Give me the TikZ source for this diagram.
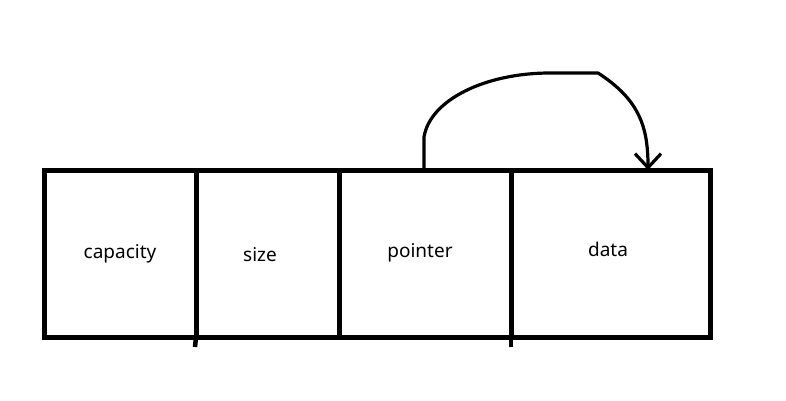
\documentclass[tikz,border=0pt]{standalone}
\usepackage{fontspec}
\setmainfont{Noto Sans}
\usetikzlibrary{arrows.meta}
\begin{document}
\begin{tikzpicture}[x=1pt,y=1pt,
  cell/.style={draw, line width=5pt, minimum height=167pt, inner sep=0pt, outer sep=0pt, anchor=south west},
  lbl/.style={font=\fontsize{19}{22}\selectfont, inner sep=0pt},
  bar/.style={line width=4.5pt},
  link/.style={line width=3.2pt, line join=round, -{Straight Barb[length=14pt,width=26pt,line width=3.2pt]}}]
\useasboundingbox (0,0) rectangle (786,400);
\node[cell, minimum width=152pt] (cap) at (44,63) {};
\node[cell, minimum width=143pt] (siz) at (196,63) {};
\node[cell, minimum width=172pt] (ptr) at (339,63) {};
\node[cell, minimum width=199pt] (dat) at (511,63) {};
\node[lbl] (tcap) at (120,146) {capacity};
\node[lbl] (tsiz) at (260,145) {size};
\node[lbl] (tptr) at (420,147) {pointer};
\node[lbl] (tdat) at (608,151) {data};
\coordinate (b1) at (195,53);
\coordinate (b3) at (511,53);
\draw[bar] (siz.south west) -- (b1);
\draw[bar] (dat.south west) -- (b3);
\coordinate (p0) at ([xshift=-1pt]ptr.north);
\coordinate (d0) at ([xshift=37.5pt]dat.north);
\draw[link] (p0) -- (424,263) .. controls (430,300) and (485,327) .. (550,327) -- (598,327)
  .. controls (640,300) and (648,272) .. (d0);
\end{tikzpicture}
\end{document}
